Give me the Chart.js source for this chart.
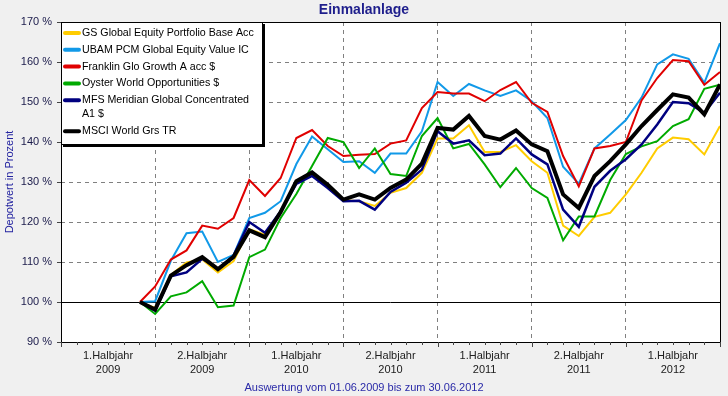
<!DOCTYPE html>
<html lang="de">
  <head>
    <meta charset="UTF-8" />
    <title>Einmalanlage</title>
    <script src="https://cdn.jsdelivr.net/npm/chart.js"></script>
    <style>
      html, body { margin: 0; padding: 0; background: #f0f0f0; }
      canvas { display: block; }
    </style>
  </head>
  <body>
    <canvas id="chart" width="728" height="396"></canvas>

    <script>
      // Stichtage (Monatsende), Start 01.06.2009
      const dates = [
        "01.06.2009", "30.06.2009", "31.07.2009", "31.08.2009", "30.09.2009", "31.10.2009", "30.11.2009", "31.12.2009",
        "31.01.2010", "28.02.2010", "31.03.2010", "30.04.2010", "31.05.2010", "30.06.2010",
        "31.07.2010", "31.08.2010", "30.09.2010", "31.10.2010", "30.11.2010", "31.12.2010",
        "31.01.2011", "28.02.2011", "31.03.2011", "30.04.2011", "31.05.2011", "30.06.2011",
        "31.07.2011", "31.08.2011", "30.09.2011", "31.10.2011", "30.11.2011", "31.12.2011",
        "31.01.2012", "29.02.2012", "31.03.2012", "30.04.2012", "31.05.2012", "30.06.2012",
      ];

      const halfYearLabels = [
        ["1.Halbjahr", "2009"], ["2.Halbjahr", "2009"],
        ["1.Halbjahr", "2010"], ["2.Halbjahr", "2010"],
        ["1.Halbjahr", "2011"], ["2.Halbjahr", "2011"],
        ["1.Halbjahr", "2012"],
      ];

      const yTicks = [90, 100, 110, 120, 130, 140, 150, 160, 170];

      const gsValues = [
        100, 98.5, 106.8, 109.9, 110.6, 107.4, 110.2, 118.2, 116.8, 122.3, 130, 132, 128.8, 125.5,
        125.2, 124, 127.3, 128.5, 132.3, 140.9, 140.9, 144.2, 137.5, 137.5, 139.2, 135.2, 132.3,
        119.1, 116.5, 121.3, 122.3, 126.9, 132.3, 138.4, 141.1, 140.7, 136.9, 144,
      ];
      const ubamValues = [
        100, 100.2, 110.3, 117.2, 117.6, 110, 111.8, 121, 122.3, 125.2, 134.5, 141.4, 138.2, 135,
        135.2, 132.3, 137.1, 137.1, 142.7, 155, 151.5, 154.5, 152.9, 151.5, 152.9, 150.2, 146,
        133.8, 129.6, 138.4, 141.9, 145.5, 151.1, 159.4, 161.9, 160.8, 154.8, 164.7,
      ];
      const franklinValues = [
        100, 103.9, 110.6, 112.9, 119.1, 118.3, 121, 130.5, 126.5, 131, 141, 143, 139, 136.5,
        136.8, 137, 139.6, 140.4, 148.5, 152.5, 152.1, 152.1, 150.2, 153, 155, 149.8, 147.5,
        136.5, 128.9, 138.4, 139, 140, 150.4, 156, 160.5, 160.2, 154.3, 157.5,
      ];
      const oysterValues = [
        100, 97, 101.4, 102.4, 105.2, 98.7, 99.1, 111.2, 113.1, 121, 127, 134, 141, 140,
        133.5, 138.4, 132, 131.5, 141.5, 146, 138.4, 139.5, 134.4, 128.7, 133.5, 128.5, 126,
        115.4, 121.4, 121.4, 130.5, 137, 138.9, 140.2, 144, 145.7, 153.3, 154.3,
      ];
      const mfsValues = [
        100, 97.8, 106.4, 107.4, 110.8, 108.3, 111.6, 120, 117.3, 122.7, 129.5, 131.5, 128.5, 125.2,
        125.3, 123.1, 127.5, 129.8, 133.1, 142.7, 139.6, 140.4, 136.7, 137.1, 140.9, 136.9, 134.4,
        123.1, 118.8, 128.8, 132.8, 135.7, 139.4, 144.4, 150, 149.7, 147.3, 152.3,
      ];
      const msciValues = [
        100, 98.1, 106.6, 109.2, 111.2, 108.2, 111.3, 117.9, 116.2, 122.5, 130.2, 132.4, 129.3, 125.6,
        126.9, 125.6, 128.5, 130.6, 134.6, 143.5, 143.1, 146.5, 141.5, 140.6, 142.9, 139.4, 137.7,
        126.9, 123.5, 131.5, 135.2, 139.4, 144, 148, 151.9, 151.1, 146.9, 154.4,
      ];

      const FONT = '"Liberation Sans", Arial, sans-serif';

      // Datum -> Monate seit 01.01.2009
      function monthPos(s) {
        const [d, m, y] = s.split(".").map(Number);
        const dim = new Date(y, m, 0).getDate();
        return (y - 2009) * 12 + (m - 1) + d / dim;
      }
      const toPoints = (vals) => vals.map((v, i) => ({ x: monthPos(dates[i]), y: v }));

      const series = [
        { label: "GS Global Equity Portfolio Base Acc", values: gsValues, color: "#ffcc00", width: 2 },
        { label: "UBAM PCM Global Equity Value IC", values: ubamValues, color: "#1199e8", width: 2 },
        { label: "Franklin Glo Growth A acc $", values: franklinValues, color: "#e00000", width: 2 },
        { label: "Oyster World Opportunities $", values: oysterValues, color: "#00aa00", width: 2 },
        { label: "MFS Meridian Global Concentrated A1 $", values: mfsValues, color: "#000080", width: 2.5 },
        { label: "MSCI World Grs TR", values: msciValues, color: "#000000", width: 4 },
      ];

      const frame = {
        id: "frame",
        beforeDraw(chart) {
          const { ctx, chartArea: a } = chart;
          ctx.save();
          ctx.fillStyle = "#f0f0f0";
          ctx.fillRect(0, 0, chart.width, chart.height);
          ctx.fillStyle = "#ffffff";
          ctx.fillRect(a.left, a.top, a.right - a.left, a.bottom - a.top);
          ctx.restore();
        },
        beforeDatasetsDraw(chart) {
          // durchgezogene 100 %-Linie
          const { ctx, chartArea: a, scales } = chart;
          const y = Math.round(scales.y.getPixelForValue(100)) + 0.5;
          ctx.save();
          ctx.strokeStyle = "#000";
          ctx.lineWidth = 1;
          ctx.beginPath();
          ctx.moveTo(a.left, y);
          ctx.lineTo(a.right, y);
          ctx.stroke();
          ctx.restore();
        },
        afterDatasetsDraw(chart) {
          const { ctx, chartArea: a, scales } = chart;
          ctx.save();
          ctx.strokeStyle = "#000";
          ctx.lineWidth = 1;
          ctx.strokeRect(Math.round(a.left) + 0.5, Math.round(a.top) + 0.5,
            Math.round(a.right - a.left), Math.round(a.bottom - a.top));
          // Teilstriche
          ctx.strokeStyle = "#444";
          ctx.beginPath();
          for (let m = 0; m <= 42; m++) {
            const x = Math.round(scales.x.getPixelForValue(m)) + 0.5;
            ctx.moveTo(x, a.bottom);
            ctx.lineTo(x, a.bottom + (m % 6 === 0 ? 5 : 3));
          }
          yTicks.forEach((v) => {
            const y = Math.round(scales.y.getPixelForValue(v)) + 0.5;
            ctx.moveTo(a.left - 4, y);
            ctx.lineTo(a.left, y);
          });
          ctx.stroke();
          ctx.restore();
        },
        afterDraw(chart) {
          const { ctx, chartArea: a } = chart;
          ctx.save();
          // Titel und Fusszeile
          ctx.textAlign = "center";
          ctx.textBaseline = "middle";
          ctx.fillStyle = "#1e1e8c";
          ctx.font = "bold 14px " + FONT;
          ctx.fillText("Einmalanlage", 364, 10);
          ctx.fillStyle = "#2a2aa8";
          ctx.font = "11px " + FONT;
          ctx.fillText("Auswertung vom 01.06.2009 bis zum 30.06.2012", 364, 388);

          // Legende
          const x0 = Math.round(a.left), y0 = Math.round(a.top), w = 201, h = 122;
          ctx.fillStyle = "#000";
          ctx.fillRect(x0 + 2, y0 + 2, w + 1, h + 1);
          ctx.fillStyle = "#fff";
          ctx.fillRect(x0, y0, w, h);
          ctx.strokeStyle = "#000";
          ctx.lineWidth = 1;
          ctx.strokeRect(x0 + 0.5, y0 + 0.5, w, h);

          // Schriftgroesse so, dass der erste Eintrag ca. 172 px breit ist
          ctx.font = "11px " + FONT;
          const ref = ctx.measureText(chart.data.datasets[0].label).width;
          const size = Math.min(11, (11 * 172) / ref);
          ctx.font = size.toFixed(2) + "px " + FONT;
          ctx.textAlign = "left";
          let y = y0 + 11;
          chart.data.datasets.forEach((ds) => {
            const words = ds.label.split(" ");
            const lines = [];
            let line = "";
            words.forEach((wd) => {
              const test = line ? line + " " + wd : wd;
              if (ctx.measureText(test).width > 176 && line) {
                lines.push(line);
                line = wd;
              } else line = test;
            });
            lines.push(line);

            ctx.strokeStyle = ds.borderColor;
            ctx.lineWidth = 4;
            ctx.lineCap = "round";
            ctx.beginPath();
            ctx.moveTo(x0 + 4, y);
            ctx.lineTo(x0 + 18, y);
            ctx.stroke();

            ctx.fillStyle = "#000";
            lines.forEach((ln, k) => ctx.fillText(ln, x0 + 21, y + k * 14.3));
            y += 16.8 + (lines.length - 1) * 14.3;
          });
          ctx.restore();
        },
      };

      new Chart(document.getElementById("chart"), {
        type: "line",
        data: {
          datasets: series.map((s, i) => ({
            label: s.label,
            data: toPoints(s.values),
            borderColor: s.color,
            backgroundColor: s.color,
            borderWidth: s.width,
            pointRadius: 0,
            tension: 0,
            fill: false,
            order: series.length - i,
          })),
        },
        options: {
          responsive: false,
          animation: false,
          devicePixelRatio: 1,
          layout: { padding: { left: 0, right: 8, top: 22, bottom: 0 } },
          plugins: { legend: { display: false }, tooltip: { enabled: false } },
          scales: {
            x: {
              type: "linear",
              min: 0,
              max: 42,
              afterFit: (s) => { s.height = 54; },
              afterBuildTicks: (s) => {
                s.ticks = [];
                for (let m = 0; m <= 42; m++) s.ticks.push({ value: m });
              },
              grid: {
                drawTicks: false,
                color: (c) =>
                  c.tick && c.tick.value % 6 === 0 && c.tick.value > 0 && c.tick.value < 42
                    ? "#808080" : "rgba(0,0,0,0)",
              },
              border: { display: false, dash: [4, 4] },
              ticks: {
                autoSkip: false,
                maxRotation: 0,
                padding: 7,
                color: "#202020",
                font: { family: FONT, size: 11, lineHeight: 1.28 },
                callback: (v) => (v % 6 === 3 ? halfYearLabels[(v - 3) / 6] : ""),
              },
            },
            y: {
              min: 90,
              max: 170,
              afterFit: (s) => { s.width = 61; },
              afterBuildTicks: (s) => { s.ticks = yTicks.map((v) => ({ value: v })); },
              grid: {
                drawTicks: false,
                color: (c) =>
                  c.tick && c.tick.value > 100 && c.tick.value < 170 ? "#808080" : "rgba(0,0,0,0)",
              },
              border: { display: false, dash: [4, 4] },
              ticks: {
                padding: 9,
                color: "#1a1a4a",
                font: { family: FONT, size: 11 },
                callback: (v) => v + " %",
              },
              title: {
                display: true,
                text: "Depotwert in Prozent",
                color: "#2323a0",
                font: { family: FONT, size: 11 },
                padding: { top: 3, bottom: 0 },
              },
            },
          },
        },
        plugins: [frame],
      });
    </script>
  </body>
</html>
